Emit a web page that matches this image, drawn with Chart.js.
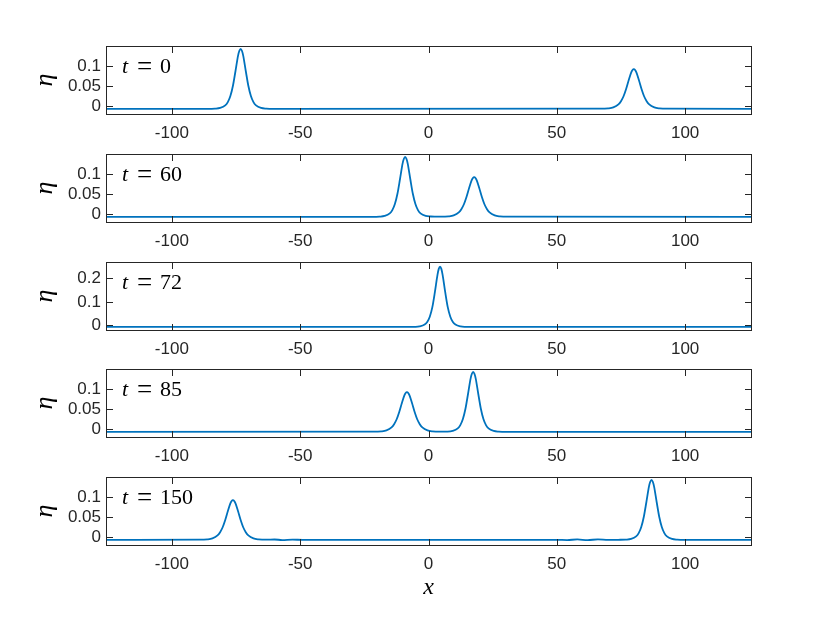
<!DOCTYPE html>
<html>
<head>
<meta charset="utf-8">
<script src="https://cdn.jsdelivr.net/npm/chart.js@4/dist/chart.umd.min.js"></script>
<style>
  body { margin: 0; background: #fff; }
  #wrap { position: relative; width: 830px; height: 623px; }
  canvas { position: absolute; left: 0; }
</style>
</head>
<body>
<div id="wrap"></div>
<script>
// tick labels
const xTicks = [-100, -50, 0, 50, 100];
const yTicksSmall = [0, 0.05, 0.1];
const yTicksBig = [0, 0.1, 0.2];
const times = ['0', '60', '72', '85', '150'];

// eta(x)
const eta0X = [-125.66, -86.2, -83.2, -81.2, -79.2, -78.2, -77.2, -76.2, -75.2, -74.2, -73.7, -73.2, -72.7, -72.2, -71.2, -70.2, -69.2, -68.2, -67.2, -65.2, -63.2, -60.2,
  67, 70, 72, 74, 75, 76, 77, 78, 79, 79.5, 80, 80.5, 81, 82, 83, 84, 85, 86, 88, 90, 93, 125.66];
const eta0Y = [-0.007, -0.007, -0.0065, -0.0049, 0.0015, 0.0097, 0.0249, 0.0506, 0.0875, 0.126, 0.138, 0.143, 0.138, 0.126, 0.0875, 0.0506, 0.0249, 0.0097, 0.0015, -0.0049, -0.0065, -0.007,
  -0.0068, -0.0059, -0.0035, 0.004, 0.0121, 0.0244, 0.0425, 0.0643, 0.084, 0.090, 0.092, 0.090, 0.084, 0.0643, 0.0425, 0.0244, 0.0121, 0.004, -0.0035, -0.0059, -0.0068, -0.007];

const eta60X = [-125.66, -22.1, -19.1, -17.1, -15.1, -14.1, -13.1, -12.1, -11.1, -10.1, -9.6, -9.1, -8.6, -8.1, -7.1, -6.1, -5.1, -4.1, -3.1, -1.1, 0.9, 3.9,
  4.8, 7.8, 9.8, 11.8, 12.8, 13.8, 14.8, 15.8, 16.8, 17.3, 17.8, 18.3, 18.8, 19.8, 20.8, 21.8, 22.8, 23.8, 25.8, 27.8, 30.8, 125.66];
const eta60Y = [-0.007, -0.007, -0.0065, -0.0049, 0.0015, 0.0097, 0.0249, 0.0506, 0.0875, 0.126, 0.138, 0.143, 0.138, 0.126, 0.0875, 0.0506, 0.0249, 0.0097, 0.0015, -0.0049, -0.0062, -0.0068,
  -0.0068, -0.0059, -0.0035, 0.004, 0.0121, 0.0244, 0.0425, 0.0643, 0.084, 0.090, 0.092, 0.090, 0.084, 0.0643, 0.0425, 0.0244, 0.0121, 0.004, -0.0035, -0.0059, -0.0068, -0.007];

const eta72X = [-125.66, -8.5, -5.5, -3.5, -1.5, -0.5, 0.5, 1.5, 2.5, 3.5, 4, 4.5, 5, 5.5, 6.5, 7.5, 8.5, 9.5, 10.5, 12.5, 14.5, 17.5, 125.66];
const eta72Y = [-0.007, -0.007, -0.0065, -0.0048, 0.003, 0.014, 0.0365, 0.0776, 0.1425, 0.215, 0.2407, 0.25, 0.2407, 0.215, 0.1425, 0.0776, 0.0365, 0.014, 0.003, -0.0048, -0.0065, -0.007, -0.007];

const eta85X = [-125.66, -21.4, -18.4, -16.4, -14.4, -13.4, -12.4, -11.4, -10.4, -9.4, -8.9, -8.4, -7.9, -7.4, -6.4, -5.4, -4.4, -3.4, -2.4, -0.4, 1.6,
  4.5, 7.4, 9.4, 11.4, 12.4, 13.4, 14.4, 15.4, 16.4, 16.9, 17.4, 17.9, 18.4, 19.4, 20.4, 21.4, 22.4, 23.4, 25.4, 27.4, 30.4, 125.66];
const eta85Y = [-0.007, -0.0068, -0.0059, -0.0035, 0.004, 0.0121, 0.0244, 0.0425, 0.0643, 0.084, 0.090, 0.092, 0.090, 0.084, 0.0643, 0.0425, 0.0244, 0.0121, 0.004, -0.0035, -0.0059,
  -0.0066, -0.0065, -0.0049, 0.0015, 0.0097, 0.0249, 0.0506, 0.0875, 0.126, 0.138, 0.143, 0.138, 0.126, 0.0875, 0.0506, 0.0249, 0.0097, 0.0015, -0.0049, -0.0065, -0.007, -0.007];

const eta150X = [-125.66, -89.2, -86.2, -84.2, -82.2, -81.2, -80.2, -79.2, -78.2, -77.2, -76.7, -76.2, -75.7, -75.2, -74.2, -73.2, -72.2, -71.2, -70.2, -68.2, -66.2, -63.2,
  -60, -57, -53, -49, 50, 54, 58, 62, 66, 70,
  73.9, 76.9, 78.9, 80.9, 81.9, 82.9, 83.9, 84.9, 85.9, 86.4, 86.9, 87.4, 87.9, 88.9, 89.9, 90.9, 91.9, 92.9, 94.9, 96.9, 99.9, 125.66];
const eta150Y = [-0.007, -0.0068, -0.0059, -0.0035, 0.004, 0.0121, 0.0244, 0.0425, 0.0643, 0.084, 0.090, 0.092, 0.090, 0.084, 0.0643, 0.0425, 0.0244, 0.0121, 0.004, -0.0035, -0.0059, -0.0068,
  -0.0062, -0.0076, -0.0066, -0.0071, -0.007, -0.0076, -0.0061, -0.0078, -0.006, -0.0074,
  -0.007, -0.0065, -0.0049, 0.0015, 0.0097, 0.0249, 0.0506, 0.0875, 0.126, 0.138, 0.143, 0.138, 0.126, 0.0875, 0.0506, 0.0249, 0.0097, 0.0015, -0.0049, -0.0065, -0.007, -0.007];

const panels = [
  { xs: eta0X, ys: eta0Y, yMax: 0.15, yTicks: yTicksSmall },
  { xs: eta60X, ys: eta60Y, yMax: 0.15, yTicks: yTicksSmall },
  { xs: eta72X, ys: eta72Y, yMax: 0.27, yTicks: yTicksBig },
  { xs: eta85X, ys: eta85Y, yMax: 0.15, yTicks: yTicksSmall },
  { xs: eta150X, ys: eta150Y, yMax: 0.15, yTicks: yTicksSmall }
];

const tops = [46, 154, 262, 369, 477];
const plotH = 68;
const axisColor = '#262626';

// box with inward ticks on all sides, plus the t = ... label
const boxPlugin = {
  id: 'box',
  afterDraw(chart, args, opts) {
    const { ctx, chartArea: a, scales: { x, y } } = chart;
    const L = Math.round(a.left) + 0.5, R = Math.round(a.right) + 0.5;
    const T = Math.round(a.top) + 0.5, B = Math.round(a.bottom) + 0.5;
    ctx.save();
    ctx.strokeStyle = axisColor;
    ctx.lineWidth = 1;
    ctx.strokeRect(L, T, R - L, B - T);
    ctx.beginPath();
    x.ticks.forEach(t => {
      const px = Math.round(x.getPixelForValue(t.value)) + 0.5;
      ctx.moveTo(px, B); ctx.lineTo(px, B - 6.5);
      ctx.moveTo(px, T); ctx.lineTo(px, T + 6.5);
    });
    y.ticks.forEach(t => {
      const py = Math.round(y.getPixelForValue(t.value)) + 0.5;
      ctx.moveTo(L, py); ctx.lineTo(L + 6.5, py);
      ctx.moveTo(R, py); ctx.lineTo(R - 6.5, py);
    });
    ctx.stroke();

    ctx.fillStyle = '#000';
    ctx.textBaseline = 'alphabetic';
    ctx.font = 'italic 22px "Liberation Serif"';
    ctx.textAlign = 'left';
    ctx.fillText('t', a.left + 16, a.top + 27);
    ctx.font = '27px "Liberation Serif"';
    ctx.textAlign = 'center';
    ctx.fillText('=', a.left + 38.5, a.top + 28.5);
    ctx.font = '22px "Liberation Serif"';
    ctx.textAlign = 'left';
    ctx.fillText(opts.text, a.left + 54, a.top + 27);
    ctx.restore();
  }
};

const wrap = document.getElementById('wrap');
panels.forEach((p, i) => {
  const last = i === panels.length - 1;
  const axH = last ? 60 : 40;
  const h = 6 + plotH + axH;
  const cv = document.createElement('canvas');
  cv.width = 830; cv.height = h;
  cv.style.top = (tops[i] - 6) + 'px';
  wrap.appendChild(cv);

  new Chart(cv.getContext('2d'), {
    type: 'line',
    data: {
      datasets: [{
        data: p.xs.map((v, k) => ({ x: v, y: p.ys[k] })),
        borderColor: '#0072BD',
        borderWidth: 1.8,
        pointRadius: 0,
        cubicInterpolationMode: 'monotone',
        fill: false
      }]
    },
    options: {
      responsive: false,
      animation: false,
      devicePixelRatio: 1,
      layout: { padding: { left: 0, right: 79, top: 6, bottom: 0 } },
      plugins: {
        legend: { display: false },
        tooltip: { enabled: false },
        box: { text: times[i] }
      },
      scales: {
        x: {
          type: 'linear',
          min: -125.66, max: 125.66,
          afterBuildTicks: s => { s.ticks = xTicks.map(v => ({ value: v })); },
          afterFit: s => { s.height = axH; s.paddingLeft = 0; s.paddingRight = 0; },
          grid: { display: false, drawTicks: false },
          border: { display: false },
          ticks: {
            padding: 9, color: axisColor, maxRotation: 0, autoSkip: false,
            font: { family: 'Liberation Sans', size: 17 },
            callback: v => String(v)
          },
          title: {
            display: last, text: 'x', color: '#000',
            font: { family: 'Liberation Serif', style: 'italic', size: 24 },
            padding: { top: 0, bottom: 3 }
          }
        },
        y: {
          type: 'linear',
          min: -0.02, max: p.yMax,
          afterBuildTicks: s => { s.ticks = p.yTicks.map(v => ({ value: v })); },
          afterFit: s => { s.width = 106; s.paddingTop = 0; s.paddingBottom = 0; },
          grid: { display: false, drawTicks: false },
          border: { display: false },
          ticks: {
            padding: 5, color: axisColor,
            font: { family: 'Liberation Sans', size: 17 },
            callback: v => String(v)
          },
          title: {
            display: true, text: 'η', color: '#000',
            font: { family: 'Liberation Serif', style: 'italic', size: 26 },
            padding: { top: 30, bottom: 0 }
          }
        }
      }
    },
    plugins: [boxPlugin]
  });
});
</script>
</body>
</html>
